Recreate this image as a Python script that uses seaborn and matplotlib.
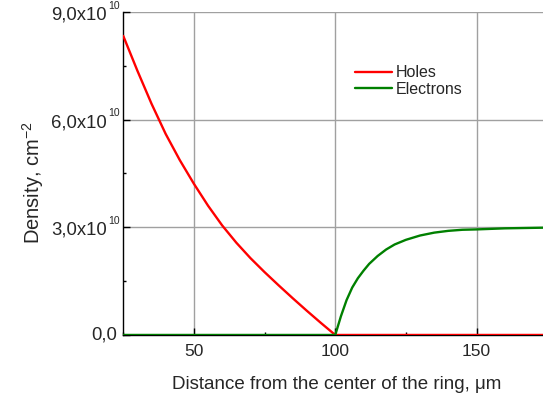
import numpy as np
import pandas as pd
import seaborn as sns
import matplotlib
matplotlib.use("Agg")
import matplotlib.pyplot as plt
from matplotlib.ticker import MultipleLocator, NullFormatter

# values (density in units of 1e10 cm^-2)
holes_x = [25, 30, 35, 40, 45, 50, 55, 60, 65, 70, 75, 80, 85, 90, 95, 100, 125, 150, 175]
holes_y = [8.33, 7.36, 6.44, 5.6, 4.87, 4.21, 3.6, 3.05, 2.57, 2.14, 1.75, 1.38, 1.02, 0.67, 0.33, 0.0,
           0.0, 0.0, 0.0]
elec_x = [25, 50, 75, 100, 102, 104, 106, 108, 110, 112, 115, 118, 121, 125, 130, 135, 140, 145, 150, 160, 175]
elec_y = [0.0, 0.0, 0.0, 0.0, 0.52, 0.97, 1.32, 1.58, 1.79, 1.98, 2.2, 2.38, 2.52, 2.65, 2.77, 2.85, 2.9, 2.93, 2.94,
          2.97, 2.99]
y_ticks = [0, 3e10, 6e10, 9e10]

sns.set_style("ticks")
plt.rcParams["font.family"] = ["Liberation Sans", "DejaVu Sans"]
plt.rcParams["mathtext.fontset"] = "custom"
plt.rcParams["mathtext.rm"] = "Liberation Sans"
plt.rcParams["mathtext.it"] = "Liberation Sans"
plt.rcParams["mathtext.default"] = "regular"

holes = pd.DataFrame({"x": holes_x, "y": np.array(holes_y) * 1e10})
elec = pd.DataFrame({"x": elec_x, "y": np.array(elec_y) * 1e10})

fig = plt.figure(figsize=(5.43, 3.95), dpi=100)
ax = fig.add_axes([0.227, 0.152, 0.773, 0.818])

sns.lineplot(data=holes, x="x", y="y", color="#ff0000", lw=1.7, label="Holes", ax=ax, zorder=3)
sns.lineplot(data=elec, x="x", y="y", color="#008000", lw=1.7, label="Electrons", ax=ax, zorder=3)

ax.set_xlim(25, 173.5)
ax.set_ylim(0, 9e10)
ax.xaxis.set_major_locator(MultipleLocator(50))
ax.xaxis.set_minor_locator(MultipleLocator(25))
ax.set_yticks(y_ticks)
ax.yaxis.set_minor_locator(MultipleLocator(1.5e10))
ax.yaxis.set_major_formatter(NullFormatter())

# y tick labels like "9,0x10^10" with a small exponent
for v in y_ticks:
    if v == 0:
        ax.annotate("0,0", xy=(0, v), xycoords=("axes fraction", "data"), xytext=(-4.3, -3.2),
                    textcoords="offset points", ha="right", va="baseline", fontsize=13.3, annotation_clip=False)
        continue
    m = f"{v / 1e10:.1f}".replace(".", ",")
    ax.annotate(m + "x10", xy=(0, v), xycoords=("axes fraction", "data"), xytext=(-11.6, -5.5),
                textcoords="offset points", ha="right", va="baseline", fontsize=13.3, annotation_clip=False)
    ax.annotate("10", xy=(0, v), xycoords=("axes fraction", "data"), xytext=(-11.0, 2.4),
                textcoords="offset points", ha="left", va="baseline", fontsize=7.5, annotation_clip=False)

ax.grid(True, which="major", color="#a0a0a0", lw=1)
ax.tick_params(which="major", direction="in", length=5, width=1, color="black")
ax.tick_params(axis="x", which="major", labelsize=12.5, pad=6.5)
ax.tick_params(which="minor", direction="in", length=2.5, width=1, color="black")
for s in ["top", "right"]:
    ax.spines[s].set_visible(False)
for s in ["left", "bottom"]:
    ax.spines[s].set_color("black")
    ax.spines[s].set_linewidth(1)

ax.set_xlabel("Distance from the center of the ring, μm", fontsize=13.5)
ax.xaxis.set_label_coords(0.508, -0.126)
ax.set_ylabel(r"Density, cm$^{-2}$", fontsize=14.5)
ax.yaxis.set_label_coords(-0.185, 0.47)

ax.legend(loc="upper left", bbox_to_anchor=(0.537, 0.854), frameon=False, fontsize=11.5,
          borderaxespad=0, handlelength=2.3, handletextpad=0.25, labelspacing=0.1)

fig.savefig("out.png", dpi=100)
